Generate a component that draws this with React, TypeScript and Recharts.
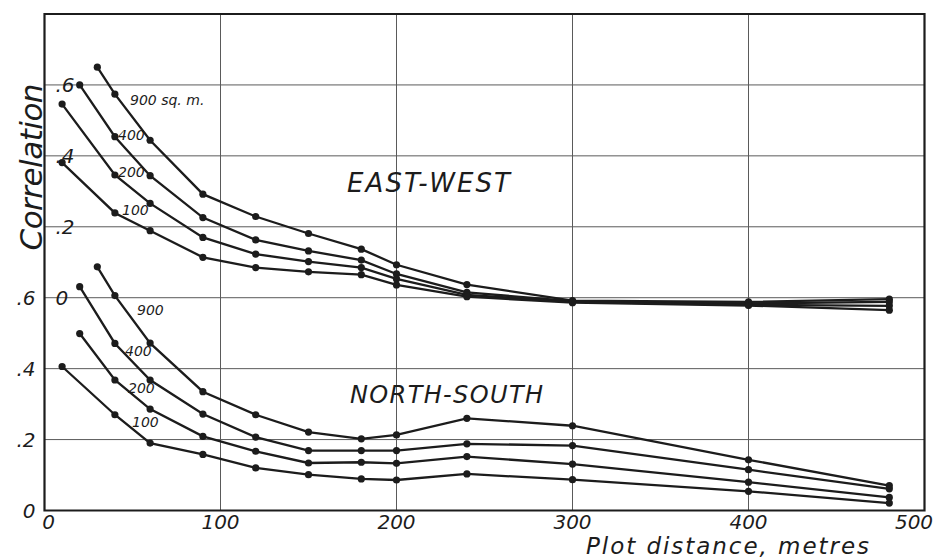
import React from 'react';
import { LineChart, Line, XAxis, YAxis, CartesianGrid, ReferenceArea } from 'recharts';

// plot distance in metres
const distances = [10, 20, 30, 40, 60, 90, 120, 150, 180, 200, 240, 300, 400, 480];

// East-West correlations by plot size (sq. m.)
const ew900 = [null, null, 0.65, 0.574, 0.444, 0.292, 0.229, 0.181, 0.137, 0.093, 0.037, -0.008, -0.012, -0.004];
const ew400 = [null, 0.6, null, 0.454, 0.344, 0.226, 0.163, 0.132, 0.106, 0.067, 0.015, -0.01, -0.016, -0.012];
const ew200 = [0.546, null, null, 0.346, 0.266, 0.17, 0.123, 0.102, 0.085, 0.053, 0.008, -0.012, -0.02, -0.023];
const ew100 = [0.381, null, null, 0.239, 0.189, 0.114, 0.085, 0.073, 0.065, 0.036, 0.003, -0.014, -0.022, -0.035];

// North-South correlations by plot size (sq. m.)
const ns900 = [null, null, 0.687, 0.606, 0.472, 0.335, 0.27, 0.221, 0.202, 0.213, 0.26, 0.239, 0.143, 0.07];
const ns400 = [null, 0.631, null, 0.471, 0.368, 0.272, 0.207, 0.169, 0.169, 0.169, 0.188, 0.183, 0.115, 0.061];
const ns200 = [null, 0.499, null, 0.368, 0.286, 0.209, 0.167, 0.134, 0.136, 0.133, 0.152, 0.131, 0.08, 0.037];
const ns100 = [0.406, null, null, 0.27, 0.19, 0.158, 0.12, 0.101, 0.089, 0.086, 0.103, 0.087, 0.054, 0.021];

const xTicks = [0, 100, 200, 300, 400, 500];
const yTicks = [0, 0.2, 0.4, 0.6, 0.8, 1.0, 1.2, 1.4];

// the East-West panel is drawn on top of the North-South one, shifted up by .6
const EW_OFFSET = 0.6;

const shift = (v: number | null) => (v == null ? null : +(v + EW_OFFSET).toFixed(3));

const rows = distances.map((d, i) => ({
  d,
  ew900: shift(ew900[i]),
  ew400: shift(ew400[i]),
  ew200: shift(ew200[i]),
  ew100: shift(ew100[i]),
  ns900: ns900[i],
  ns400: ns400[i],
  ns200: ns200[i],
  ns100: ns100[i],
}));

const seriesKeys = ['ew900', 'ew400', 'ew200', 'ew100', 'ns900', 'ns400', 'ns200', 'ns100'];

const INK = '#1c1c1c';
const FONT = '"DejaVu Sans", sans-serif';

const fmt = (v: number) => (v === 0 ? '0' : '.' + Math.round(v * 10));

function XTick(props: any) {
  const { x, y, payload } = props;
  const dx = payload.value === 500 ? -10 : payload.value === 0 ? 4 : 0;
  return (
    <text x={x + dx} y={y + 18} textAnchor="middle" fill={INK} fontSize={20} fontStyle="italic" fontFamily={FONT}>
      {payload.value}
    </text>
  );
}

function YTick(props: any) {
  const { y, payload } = props;
  const x = 44.5;
  const v = Math.round(payload.value * 10) / 10;
  if (v > 1.3) return <g />;
  return (
    <g>
      {v <= 0.6 && (
        <text x={x - 9} y={y} dy="0.36em" textAnchor="end" fill={INK} fontSize={20} fontStyle="italic" fontFamily={FONT}>
          {fmt(v)}
        </text>
      )}
      {v >= 0.6 && (
        <text x={x + 11} y={y} dy="0.36em" textAnchor="start" fill={INK} fontSize={20} fontStyle="italic" fontFamily={FONT}>
          {fmt(Math.round((v - EW_OFFSET) * 10) / 10)}
        </text>
      )}
    </g>
  );
}

export default function App() {
  const txt = { fill: INK, fontFamily: FONT, fontStyle: 'italic' as const };
  return (
    <div style={{ position: 'absolute', left: 0, top: 0, width: 936, height: 559, background: '#fff' }}>
      <LineChart width={936} height={559} data={rows} margin={{ top: 14, right: 11.5, bottom: 18.5, left: 0 }}>
        <CartesianGrid stroke="#5a5a5a" strokeWidth={1} />
        <XAxis
          dataKey="d"
          type="number"
          domain={[0, 500]}
          ticks={xTicks}
          axisLine={false}
          tickLine={false}
          tickSize={0}
          tickMargin={0}
          height={30}
          tick={<XTick />}
        />
        <YAxis
          type="number"
          domain={[0, 1.4]}
          ticks={yTicks}
          axisLine={false}
          tickLine={false}
          tickSize={0}
          tickMargin={0}
          width={44.5}
          tick={<YTick />}
        />
        <ReferenceArea x1={0} x2={500} y1={0} y2={1.4} fill="none" stroke={INK} strokeWidth={2.2} ifOverflow="visible" />
        {seriesKeys.map((k) => (
          <Line
            key={k}
            dataKey={k}
            type="linear"
            stroke={INK}
            strokeWidth={2.3}
            dot={{ r: 3.6, fill: INK, stroke: INK, strokeWidth: 0 }}
            activeDot={false}
            connectNulls
            isAnimationActive={false}
          />
        ))}
      </LineChart>
      <svg width={936} height={559} style={{ position: 'absolute', left: 0, top: 0, pointerEvents: 'none' }}>
        <text {...txt} fontSize={14} x={130} y={105}>900 sq. m.</text>
        <text {...txt} fontSize={14} x={118} y={140}>400</text>
        <text {...txt} fontSize={14} x={118} y={177}>200</text>
        <text {...txt} fontSize={14} x={122} y={215}>100</text>
        <text {...txt} fontSize={14} x={137} y={315}>900</text>
        <text {...txt} fontSize={14} x={125} y={356}>400</text>
        <text {...txt} fontSize={14} x={128} y={393}>200</text>
        <text {...txt} fontSize={14} x={132} y={427}>100</text>
        <text {...txt} fontSize={26} x={347} y={192} textLength={163}>EAST-WEST</text>
        <text {...txt} fontSize={24} x={350} y={403} textLength={193}>NORTH-SOUTH</text>
        <text {...txt} fontSize={23} x={586} y={554} textLength={283}>Plot distance, metres</text>
        <text {...txt} fontSize={31} textAnchor="middle" textLength={167} transform="translate(42, 167) rotate(-90)">
          Correlation
        </text>
      </svg>
    </div>
  );
}
